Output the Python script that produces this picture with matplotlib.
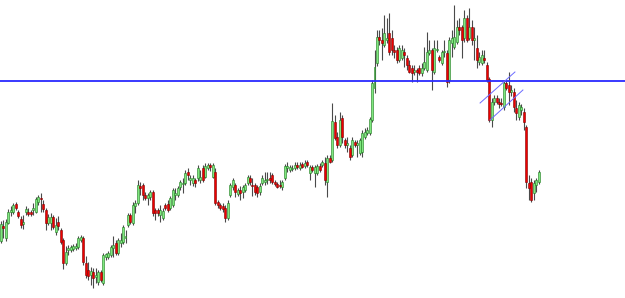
import numpy as np
import matplotlib
matplotlib.use("Agg")
import matplotlib.pyplot as plt

# candle data (price units, no axis shown)
opens = [59, 74, 62, 77, 88, 88, 96, 88, 81, 76,
         88, 88, 88, 90, 88, 98, 102, 96, 90, 77,
         77, 83, 68, 78, 70, 60, 37, 50, 50, 51,
         52, 53, 60, 62, 37, 30, 25, 28, 23, 18,
         28, 17, 43, 43, 45, 52, 57, 47, 57, 58,
         62, 75, 85, 77, 94, 97, 114, 115, 105, 102,
         103, 108, 90, 90, 85, 82, 95, 96, 92, 95,
         105, 105, 113, 116, 117, 128, 120, 117, 120, 122,
         120, 132, 123, 132, 135, 123, 128, 98, 95, 94,
         92, 82, 105, 113, 115, 106, 110, 108, 110, 117,
         122, 115, 115, 113, 108, 117, 118, 120, 122, 125,
         118, 116, 115, 113, 122, 132, 130, 131, 132, 135,
         132, 136, 134, 138, 127, 133, 127, 127, 134, 135,
         137, 118, 142, 140, 178, 163, 155, 182, 160, 155,
         152, 145, 158, 155, 147, 148, 163, 167, 167, 180,
         212, 237, 263, 260, 255, 260, 267, 262, 250, 250,
         240, 242, 248, 242, 235, 232, 228, 230, 232, 227,
         232, 230, 247, 250, 228, 250, 243, 237, 248, 247,
         220, 257, 253, 258, 273, 273, 262, 282, 262, 273,
         260, 252, 238, 237, 242, 235, 221, 180, 198, 202,
         198, 197, 193, 217, 215, 208, 208, 192, 183, 190,
         188, 173, 117, 118, 107, 115, 118]
closes = [76, 72, 78, 88, 90, 95, 92, 84, 75, 78,
          91, 86, 86, 92, 101, 103, 101, 91, 77, 83,
          83, 73, 75, 74, 58, 37, 48, 52, 53, 54,
          54, 62, 63, 38, 25, 24, 29, 22, 25, 28,
          20, 45, 46, 47, 53, 55, 47, 60, 60, 73,
          64, 85, 78, 95, 97, 115, 112, 105, 102, 105,
          108, 87, 87, 87, 90, 89, 92, 90, 102, 110,
          107, 112, 118, 117, 127, 125, 122, 122, 117, 132,
          123, 120, 134, 135, 133, 135, 97, 95, 92, 91,
          82, 97, 115, 120, 108, 110, 107, 113, 115, 123,
          118, 114, 108, 107, 114, 122, 120, 121, 120, 118,
          116, 113, 114, 118, 134, 134, 133, 132, 135, 133,
          135, 133, 137, 135, 133, 130, 133, 134, 130, 138,
          120, 142, 138, 179, 162, 155, 180, 163, 155, 157,
          143, 160, 155, 157, 160, 167, 168, 170, 181, 217,
          233, 263, 260, 257, 267, 262, 248, 250, 248, 240,
          252, 250, 245, 235, 228, 227, 230, 228, 227, 232,
          238, 248, 250, 230, 252, 251, 240, 248, 249, 218,
          260, 262, 263, 273, 270, 260, 282, 260, 273, 260,
          262, 240, 243, 245, 240, 220, 180, 198, 202, 198,
          196, 196, 217, 212, 208, 210, 193, 187, 195, 193,
          178, 118, 112, 100, 117, 120, 128]
highs = [79, 80, 81, 91, 94, 97, 98, 90, 84, 85,
         94, 92, 90, 97, 103, 105, 107, 100, 92, 86,
         87, 85, 82, 84, 72, 62, 54, 55, 55, 56,
         57, 64, 65, 64, 44, 38, 33, 32, 32, 30,
         30, 47, 47, 49, 55, 64, 60, 62, 67, 75,
         70, 87, 87, 98, 100, 120, 118, 117, 108, 107,
         110, 110, 92, 92, 95, 92, 97, 100, 104, 112,
         112, 114, 120, 122, 130, 132, 125, 125, 122, 135,
         130, 135, 137, 137, 137, 137, 132, 100, 97, 97,
         95, 100, 117, 122, 117, 112, 114, 115, 117, 125,
         125, 122, 117, 115, 117, 125, 128, 128, 128, 127,
         120, 118, 120, 120, 136, 138, 135, 135, 138, 138,
         138, 138, 140, 140, 135, 135, 135, 136, 137, 140,
         143, 145, 145, 197, 185, 168, 188, 185, 162, 163,
         155, 163, 160, 160, 162, 170, 172, 173, 183, 220,
         250, 270, 270, 272, 285, 282, 287, 270, 255, 253,
         255, 255, 252, 245, 240, 235, 235, 232, 235, 237,
         253, 268, 260, 252, 260, 260, 245, 250, 260, 250,
         263, 270, 295, 280, 282, 275, 290, 285, 292, 280,
         273, 265, 248, 250, 250, 238, 223, 202, 205, 205,
         202, 202, 220, 220, 228, 215, 212, 200, 198, 196,
         192, 175, 125, 122, 120, 122, 130]
lows = [57, 62, 59, 76, 84, 86, 90, 82, 72, 71,
        85, 84, 84, 85, 87, 95, 88, 88, 70, 75,
        70, 71, 65, 70, 56, 31, 35, 45, 48, 49,
        50, 51, 58, 35, 22, 20, 15, 12, 17, 15,
        18, 15, 40, 41, 43, 43, 45, 45, 53, 56,
        57, 73, 76, 75, 87, 95, 105, 100, 100, 95,
        100, 84, 80, 84, 78, 80, 90, 88, 90, 93,
        100, 103, 110, 107, 115, 120, 115, 114, 113, 119,
        117, 118, 122, 130, 129, 122, 95, 92, 90, 88,
        78, 80, 103, 110, 103, 104, 100, 102, 108, 115,
        115, 104, 105, 103, 105, 115, 115, 116, 117, 116,
        114, 112, 112, 110, 120, 128, 128, 129, 130, 131,
        130, 132, 132, 133, 120, 128, 113, 125, 128, 133,
        115, 103, 137, 138, 160, 152, 153, 157, 152, 148,
        140, 143, 153, 143, 145, 143, 161, 165, 165, 178,
        207, 234, 255, 240, 253, 257, 245, 245, 242, 237,
        238, 240, 233, 230, 227, 218, 225, 218, 225, 224,
        230, 228, 245, 210, 226, 248, 238, 235, 243, 213,
        217, 243, 251, 256, 265, 242, 258, 258, 260, 255,
        240, 232, 235, 235, 237, 218, 178, 173, 195, 196,
        192, 194, 190, 210, 195, 204, 188, 180, 180, 185,
        170, 112, 100, 98, 100, 108, 116]

level_line = 219.5                       # horizontal blue level
channel_top = ([192.4, 206.4], [197, 228])
channel_bottom = ([196.4, 209.6], [180, 210])


def draw_candles(ax, o, c, h, l):
    o, c, h, l = map(np.asarray, (o, c, h, l))
    x = np.arange(len(o))
    up = c >= o
    ax.vlines(x, l, h, color="#4a4a4a", linewidth=0.8, zorder=2)
    bottom = np.minimum(o, c)
    height = np.maximum(np.abs(c - o), 0.8)
    ax.bar(x[up], height[up], bottom=bottom[up], width=0.8,
           color="#7ee87e", edgecolor="#1f7a1f", linewidth=0.4, zorder=3)
    ax.bar(x[~up], height[~up], bottom=bottom[~up], width=0.8,
           color="#ee0000", edgecolor="#800000", linewidth=0.4, zorder=3)
    return x


def main():
    fig = plt.figure(figsize=(6.25, 2.98), dpi=100)
    ax = fig.add_axes([0, 0, 1, 1])
    draw_candles(ax, opens, closes, highs, lows)

    ax.axhline(level_line, color="#2a2aff", linewidth=1.3, zorder=4)
    ax.plot(*channel_top, color="#6a6aff", linewidth=0.7, zorder=4)
    ax.plot(*channel_bottom, color="#6a6aff", linewidth=0.7, zorder=4)

    step = 2.49  # pixels per candle
    ax.set_xlim(-1 / step, -1 / step + 625 / step)
    ax.set_ylim(2, 300)
    ax.axis("off")
    fig.savefig("out.png", dpi=100, facecolor="white")


if __name__ == "__main__":
    main()
